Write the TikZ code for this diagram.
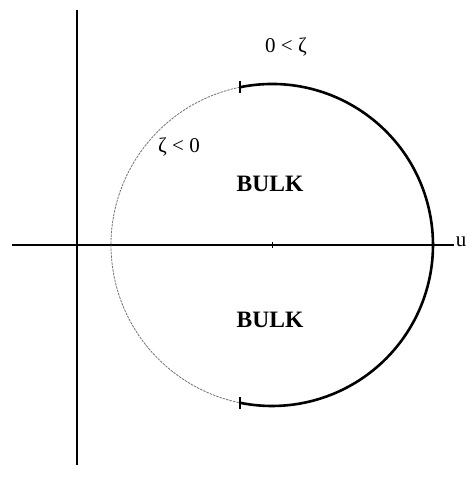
\documentclass[tikz,border=0pt]{standalone}
\usepackage{fontspec}
\setmainfont{Liberation Serif}
\usetikzlibrary{calc}
\begin{document}
\begin{tikzpicture}[x=1pt,y=1pt,
  axis/.style={line width=1.6pt},
  thickarc/.style={line width=2.6pt},
  thinarc/.style={line width=0.8pt, gray!90!black, dash pattern=on 2.5pt off 1pt},
  tickmark/.style={line width=1.4pt},
  lbl/.style={font=\fontsize{21}{24}\selectfont, inner sep=0pt},
  bulk/.style={font=\fontsize{23.5}{27}\selectfont\bfseries, inner sep=0pt}]
\useasboundingbox (0,0) rectangle (473,480);
\coordinate (c) at (272,235);
\coordinate (xl) at (12,235);
\coordinate (xr) at (454,235);
\coordinate (yt) at (77,470);
\coordinate (yb) at (77,15);
\coordinate (t1) at ($(c)+(101.5:161pt)$);
\coordinate (t2) at ($(c)+(-101.5:161pt)$);
\draw[axis] (xl) -- (xr);
\draw[axis] (yb) -- (yt);
\draw[thinarc] (t1) arc[start angle=101.5, end angle=258.5, radius=161pt];
\draw[thickarc] (t1) arc[start angle=101.5, end angle=-101.5, radius=161pt];
\draw[tickmark] ([yshift=-6pt]t1) -- ([yshift=6pt]t1);
\draw[tickmark] ([yshift=-6pt]t2) -- ([yshift=6pt]t2);
\draw[line width=1pt] ([yshift=-3pt]c) -- ([yshift=3pt]c);
\node[lbl] (lpos) at (286,433) {0 < ζ};
\node[lbl] (lneg) at (179,333) {ζ < 0};
\node[bulk] (b1) at (270,296) {BULK};
\node[bulk] (b2) at (270,160) {BULK};
\node[lbl] (u) at (461,238) {u};
\end{tikzpicture}
\end{document}
